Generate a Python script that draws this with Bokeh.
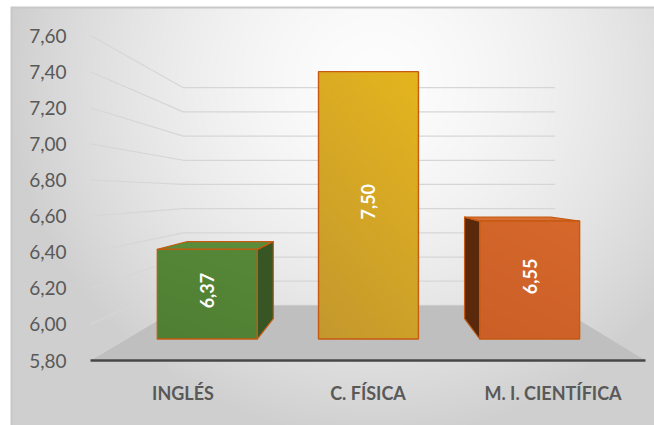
import numpy as np
from bokeh.plotting import figure
from bokeh.models import Range1d, LinearAxis, FixedTicker, CustomJSTickFormatter
from bokeh.core.properties import value
from bokeh.embed import file_html
from bokeh.resources import INLINE

# ---------------- data ----------------
categories = ["INGLÉS", "C. FÍSICA", "M. I. CIENTÍFICA"]
scores = [6.37, 7.50, 6.55]
y_ticks = [5.80, 6.00, 6.20, 6.40, 6.60, 6.80, 7.00, 7.20, 7.40, 7.60]
y_min, y_max = 5.80, 7.60

# ---------------- styles ----------------
front_lo = ["#4f7f33", "#c4982e", "#cc5f27"]
front_hi = ["#578838", "#e5b51e", "#d6682c"]
side_colors = ["#375623", "#9c7414", "#5a280b"]
top_colors = ["#5b8c3a", "#e0b030", "#d96f34"]
edge_color = "#c55a11"
grid_color = "#d6d6d6"
floor_color = "#bfbfbf"
text_color = "#595959"

W, H = 654, 425
PX0, PX_PER = 90.0, 185.0     # pixel of category origin, px per category (front plane)
PY0, PY_PER = 360.0, 180.5    # pixel of y_min, px per unit (front plane)

x_start = (0 - PX0) / PX_PER
x_end = (W - PX0) / PX_PER
y_start = y_min - (H - PY0) / PY_PER
y_end = y_min + PY0 / PY_PER

# perspective: vanishing point (data units) and depth factor
VX, VY, K = 1.52, 6.725, 0.4925
ZF, ZB = 0.30, 0.68          # bar front / back depth
HALF = 0.31                  # half bar width (category units)
n = len(categories)


def proj(X, V, z):
    s = 1.0 / (1.0 + K * z)
    return VX + s * (X - VX), VY + s * (V - VY)


p = figure(width=W, height=H, x_range=Range1d(x_start, x_end), y_range=Range1d(y_start, y_end),
           output_backend="svg", toolbar_location=None, x_axis_location=None, y_axis_location=None,
           min_border=0, outline_line_color=None)
p.xgrid.visible = False
p.ygrid.visible = False
p.background_fill_color = "white"
p.border_fill_color = "white"

# ---------------- background (radial gradient chart area) ----------------
yy, xx = np.mgrid[0:H, 0:W].astype(float)
d = np.sqrt(((xx - 375) / 370) ** 2 + ((yy - 80) / 360) ** 2)
t = np.clip(d, 0, 1) ** 1.6
g = (253 - (253 - 207) * t).astype(np.uint8)
img = np.empty((H, W), dtype=np.uint32)
view = img.view(dtype=np.uint8).reshape((H, W, 4))
view[..., 0] = g
view[..., 1] = g
view[..., 2] = g
view[..., 3] = 255
view[:6, :, :3] = 255
view[:, :10, :3] = 255
view[6:8, 10:, :3] = 200
view[6:, 10:12, :3] = 200
p.image_rgba(image=[np.flipud(img)], x=x_start, y=y_start, dw=x_end - x_start, dh=y_end - y_start)

# ---------------- walls gridlines ----------------
gxs, gys = [], []
for tv in y_ticks:
    pts = [proj(0, tv, 0), proj(0, tv, 1), proj(n, tv, 1)]
    gxs.append([q[0] for q in pts])
    gys.append([q[1] for q in pts])
p.multi_line(gxs, gys, line_color=grid_color, line_width=1.2)

# ---------------- floor ----------------
fl = [proj(0, y_min, 0), proj(n, y_min, 0), proj(n, y_min, 1), proj(0, y_min, 1)]
p.patch([q[0] for q in fl], [q[1] for q in fl], fill_color=floor_color, line_color=None)
fe = [proj(0, y_min, 0), proj(n, y_min, 0)]
p.line([q[0] for q in fe], [q[1] for q in fe], line_color="#474747", line_width=2.5)


def hex_rgb(h):
    return np.array([int(h[i:i + 2], 16) for i in (1, 3, 5)], dtype=float)


# ---------------- bars ----------------
lab_x, lab_y, lab_t = [], [], []
for i, v in enumerate(scores):
    x0, x1 = i + 0.5 - HALF, i + 0.5 + HALF
    faces, cols = [], []
    if x1 < VX:   # right side visible
        faces.append([proj(x1, y_min, ZF), proj(x1, y_min, ZB), proj(x1, v, ZB), proj(x1, v, ZF)])
        cols.append(side_colors[i])
    if x0 > VX:   # left side visible
        faces.append([proj(x0, y_min, ZF), proj(x0, y_min, ZB), proj(x0, v, ZB), proj(x0, v, ZF)])
        cols.append(side_colors[i])
    if v < VY:    # top visible
        faces.append([proj(x0, v, ZF), proj(x1, v, ZF), proj(x1, v, ZB), proj(x0, v, ZB)])
        cols.append(top_colors[i])
    if faces:
        p.patches([[q[0] for q in f] for f in faces], [[q[1] for q in f] for f in faces],
                  fill_color=cols, line_color=edge_color, line_width=1.2, line_join="round")
    # front face with gradient
    (fx0, fy0), (fx1, fy1) = proj(x0, y_min, ZF), proj(x1, v, ZF)
    rows, colsn = 128, 64
    rr, cc = np.mgrid[0:rows, 0:colsn].astype(float)
    tt = np.clip(0.7 * rr / (rows - 1) + 0.3 * cc / (colsn - 1), 0, 1)
    lo, hi = hex_rgb(front_lo[i]), hex_rgb(front_hi[i])
    gi = np.empty((rows, colsn), dtype=np.uint32)
    gv = gi.view(dtype=np.uint8).reshape((rows, colsn, 4))
    for k in range(3):
        gv[..., k] = (lo[k] + (hi[k] - lo[k]) * tt).astype(np.uint8)
    gv[..., 3] = 255
    p.image_rgba(image=[gi], x=fx0, y=fy0, dw=fx1 - fx0, dh=fy1 - fy0)
    p.patch([fx0, fx1, fx1, fx0], [fy0, fy0, fy1, fy1], fill_alpha=0,
            line_color=edge_color, line_width=1.4)
    lab_x.append((fx0 + fx1) / 2)
    lab_y.append((fy0 + fy1) / 2 + 0.02)
    lab_t.append(f"{v:.2f}".replace(".", ","))

p.text(lab_x, lab_y, text=lab_t, angle=np.pi / 2, text_align="center", text_baseline="middle",
       text_color="white", text_font=value("Lato"), text_font_style="bold", text_font_size="18px")

# ---------------- axes ----------------
yaxis = LinearAxis(ticker=FixedTicker(ticks=y_ticks),
                   formatter=CustomJSTickFormatter(code="return tick.toFixed(2).replace('.', ',');"),
                   fixed_location=(88 - PX0) / PX_PER)
yaxis.axis_line_color = None
yaxis.major_tick_line_color = None
yaxis.minor_tick_line_color = None
yaxis.major_label_standoff = 16
yaxis.major_label_text_font = "Lato"
yaxis.major_label_text_font_size = "19px"
yaxis.major_label_text_color = text_color
p.add_layout(yaxis, "left")

xaxis = LinearAxis(ticker=FixedTicker(ticks=[i + 0.5 for i in range(n)]),
                   fixed_location=y_min - (368 - PY0) / PY_PER)
xaxis.major_label_overrides = {i + 0.5: c for i, c in enumerate(categories)}
xaxis.axis_line_color = None
xaxis.major_tick_line_color = None
xaxis.minor_tick_line_color = None
xaxis.major_label_standoff = 7
xaxis.major_label_text_font = "Lato"
xaxis.major_label_text_font_style = "bold"
xaxis.major_label_text_font_size = "18px"
xaxis.major_label_text_color = text_color
p.add_layout(xaxis, "below")

open("out.html", "w").write(file_html(p, INLINE))
